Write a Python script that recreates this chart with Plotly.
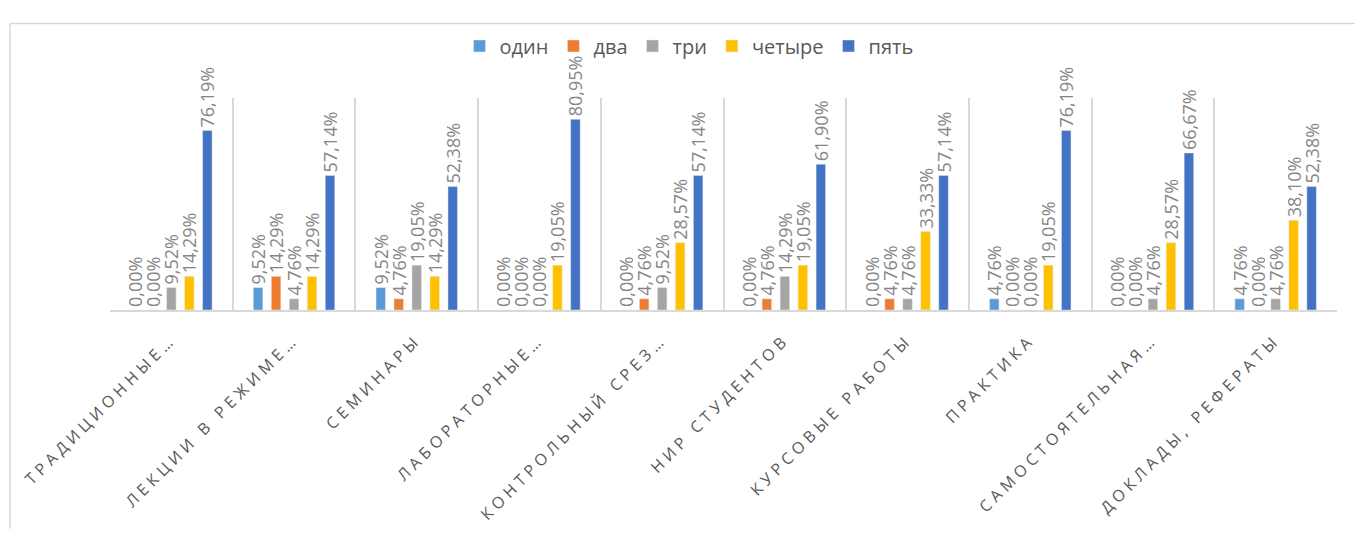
import plotly.graph_objects as go

categories = ["ТРАДИЦИОННЫЕ…", "ЛЕКЦИИ В РЕЖИМЕ…", "СЕМИНАРЫ", "ЛАБОРАТОРНЫЕ…",
              "КОНТРОЛЬНЫЙ СРЕЗ…", "НИР СТУДЕНТОВ", "КУРСОВЫЕ РАБОТЫ", "ПРАКТИКА",
              "САМОСТОЯТЕЛЬНАЯ…", "ДОКЛАДЫ, РЕФЕРАТЫ"]

one = [0.00, 9.52, 9.52, 0.00, 0.00, 0.00, 0.00, 4.76, 0.00, 4.76]
two = [0.00, 14.29, 4.76, 0.00, 4.76, 4.76, 4.76, 0.00, 0.00, 0.00]
three = [9.52, 4.76, 19.05, 0.00, 9.52, 14.29, 4.76, 0.00, 4.76, 4.76]
four = [14.29, 14.29, 14.29, 19.05, 28.57, 19.05, 33.33, 19.05, 28.57, 38.10]
five = [76.19, 57.14, 52.38, 80.95, 57.14, 61.90, 57.14, 76.19, 66.67, 52.38]

series_names = ["один", "два", "три", "четыре", "пять"]
series_values = [one, two, three, four, five]
colors = ["#5B9BD5", "#ED7D31", "#A5A5A5", "#FFC000", "#4472C4"]


def fmt(v):
    return f"{v:.2f}".replace(".", ",") + "%"


fig = go.Figure()
for name, vals, col in zip(series_names, series_values, colors):
    fig.add_trace(go.Bar(
        x=categories, y=vals, name=name, marker_color=col,
        text=[fmt(v) for v in vals], textposition="outside", textangle=-90,
        constraintext="none", cliponaxis=False,
        textfont=dict(family="Open Sans", size=18, color="#868686"),
    ))

tick_text = ['<span style="letter-spacing:4.5px">' + c + '</span>' for c in categories]

W, H = 1355, 537
L, R, T, B = 110, 18, 98, 223
pw, ph = W - L - R, H - T - B


def px_x(p):
    return (p - L) / pw


def px_y(p):
    return (H - B - p) / ph


fig.update_layout(
    width=W, height=H,
    margin=dict(l=L, r=R, t=T, b=B),
    plot_bgcolor="white", paper_bgcolor="white",
    barmode="group", bargap=0.267, bargroupgap=0.47,
    font=dict(family="Open Sans", color="#595959"),
    legend=dict(orientation="h", x=px_x(689), xanchor="center", y=px_y(45), yanchor="middle",
                bgcolor="rgba(0,0,0,0)",
                font=dict(size=20, color="#595959"), itemwidth=30, traceorder="normal"),
    xaxis=dict(type="category", tickson="boundaries", showgrid=True, gridcolor="#d9d9d9",
               gridwidth=1.5, showline=True, linecolor="#d9d9d9", linewidth=2,
               ticks="", tickangle=-45, tickmode="array", tickvals=categories,
               ticktext=tick_text, ticklabelstandoff=12,
               tickfont=dict(family="Open Sans", size=16, color="#595959")),
    yaxis=dict(range=[0, 90], visible=False, showgrid=False, zeroline=False),
    shapes=[
        dict(type="line", xref="paper", yref="paper", x0=px_x(10), x1=px_x(W), y0=px_y(22), y1=px_y(22),
             line=dict(color="#d9d9d9", width=1.5)),
        dict(type="line", xref="paper", yref="paper", x0=px_x(10), x1=px_x(10), y0=px_y(22), y1=px_y(H),
             line=dict(color="#d9d9d9", width=1.5)),
    ],
)

fig.write_html("out.html", config={"displayModeBar": False},
               post_script="document.body.style.margin='0';document.body.style.overflow='hidden';")
